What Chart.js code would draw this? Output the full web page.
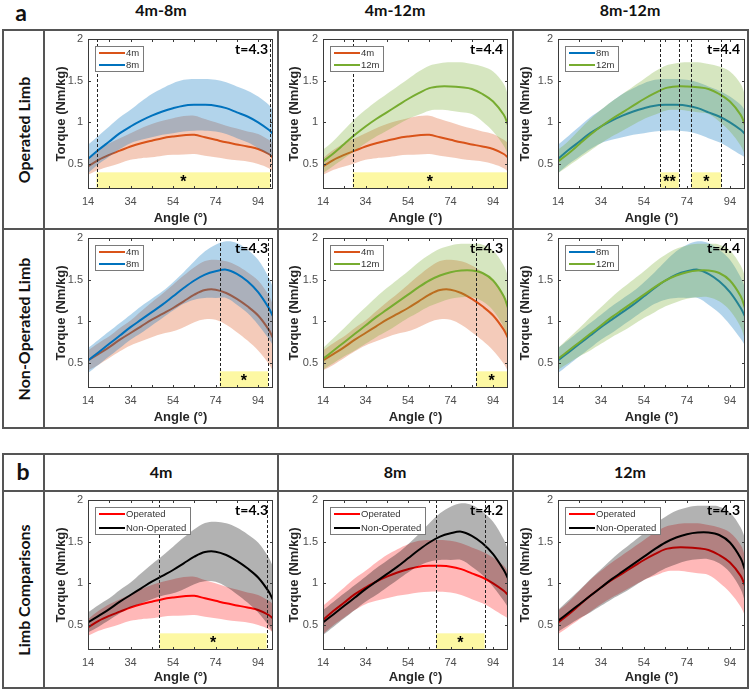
<!DOCTYPE html>
<html>
<head>
<meta charset="utf-8">
<title>Torque-angle curves</title>
<script src="https://cdn.jsdelivr.net/npm/chart.js@4.4.1/dist/chart.umd.min.js"></script>
<style>
  html, body { margin: 0; padding: 0; background: #fff; }
  #page { position: relative; width: 750px; height: 692px; overflow: hidden; }
  .ln { position: absolute; background: #555; }
  .c { position: absolute; transform: translate(-50%, -50%); white-space: nowrap; color: #111;
       font-family: Lato, 'Noto Sans', sans-serif; font-weight: bold; line-height: 1; }
  .hd { font-size: 16px; }
  .tag { font-size: 23px; }
  .rl { font-size: 16px; transform: translate(-50%, -50%) rotate(-90deg); }
  canvas { position: absolute; }
</style>
</head>
<body>
<div id="page">
  <div class="c tag" style="left:21px;top:12px">a</div>
  <div class="c hd" style="left:161px;top:10px">4m-8m</div>
  <div class="c hd" style="left:395px;top:10px">4m-12m</div>
  <div class="c hd" style="left:630px;top:10px">8m-12m</div>
  <div class="c rl" style="left:24px;top:130px">Operated Limb</div>
  <div class="c rl" style="left:24px;top:329px">Non-Operated Limb</div>

  <div class="c tag" style="left:23px;top:471px">b</div>
  <div class="c hd" style="left:161px;top:472px">4m</div>
  <div class="c hd" style="left:395px;top:472px">8m</div>
  <div class="c hd" style="left:630px;top:472px">12m</div>
  <div class="c rl" style="left:24px;top:590px">Limb Comparisons</div>
</div>

<script>
        // Joint angle samples (deg)
        const angles = [14, 19, 24, 29, 34, 39, 44, 49, 54, 59, 64, 69, 74, 79, 84, 89, 94, 99, 101];

        // Operated limb, mean and SD (Nm/kg)
        const op4Mean  = [0.47, 0.55, 0.61, 0.66, 0.71, 0.75, 0.78, 0.81, 0.83, 0.845, 0.85, 0.82, 0.79, 0.76, 0.735, 0.71, 0.68, 0.62, 0.58];
        const op4Sd    = [0.10, 0.12, 0.14, 0.15, 0.16, 0.18, 0.20, 0.21, 0.22, 0.23, 0.23, 0.22, 0.21, 0.20, 0.19, 0.18, 0.18, 0.17, 0.17];
        const op8Mean  = [0.56, 0.67, 0.77, 0.87, 0.95, 1.02, 1.08, 1.13, 1.17, 1.20, 1.21, 1.21, 1.20, 1.17, 1.12, 1.07, 1.00, 0.91, 0.86];
        const op8Sd    = [0.17, 0.17, 0.18, 0.19, 0.20, 0.23, 0.26, 0.28, 0.30, 0.31, 0.31, 0.31, 0.31, 0.31, 0.31, 0.31, 0.31, 0.30, 0.28];
        const op12Mean = [0.53, 0.63, 0.74, 0.85, 0.95, 1.04, 1.12, 1.20, 1.28, 1.35, 1.41, 1.43, 1.43, 1.42, 1.40, 1.34, 1.25, 1.09, 0.97];
        const op12Sd   = [0.14, 0.15, 0.17, 0.19, 0.20, 0.21, 0.22, 0.23, 0.24, 0.26, 0.27, 0.28, 0.29, 0.30, 0.30, 0.33, 0.36, 0.37, 0.36];

        // Non-operated limb, mean and SD (Nm/kg)
        const non4Mean  = [0.53, 0.61, 0.69, 0.78, 0.86, 0.94, 1.02, 1.09, 1.16, 1.24, 1.32, 1.375, 1.38, 1.34, 1.27, 1.18, 1.07, 0.90, 0.80];
        const non4Sd    = [0.12, 0.13, 0.13, 0.14, 0.15, 0.18, 0.21, 0.24, 0.28, 0.31, 0.33, 0.35, 0.36, 0.38, 0.40, 0.41, 0.42, 0.41, 0.40];
        const non8Mean  = [0.53, 0.63, 0.73, 0.83, 0.93, 1.02, 1.11, 1.20, 1.30, 1.40, 1.49, 1.56, 1.60, 1.62, 1.57, 1.48, 1.35, 1.16, 1.06];
        const non8Sd    = [0.15, 0.15, 0.15, 0.15, 0.15, 0.16, 0.16, 0.16, 0.17, 0.19, 0.23, 0.28, 0.32, 0.34, 0.37, 0.38, 0.39, 0.37, 0.35];
        const non12Mean = [0.55, 0.65, 0.75, 0.85, 0.95, 1.05, 1.14, 1.23, 1.32, 1.41, 1.49, 1.55, 1.59, 1.61, 1.61, 1.58, 1.49, 1.30, 1.16];
        const non12Sd   = [0.13, 0.15, 0.17, 0.20, 0.22, 0.24, 0.26, 0.27, 0.28, 0.30, 0.31, 0.32, 0.32, 0.32, 0.32, 0.34, 0.36, 0.37, 0.38];

        // Axis ticks
        const xTicks = [14, 24, 34, 44, 54, 64, 74, 84, 94];
        const xLabels = [14, 34, 54, 74, 94];
        const yTicks = [0.5, 1, 1.5, 2];

        // t statistic per panel (a row 1, a row 2, b)
        const tValues = ['4.3', '4.4', '4.4', '4.3', '4.3', '4.4', '4.3', '4.2', '4.3'];

        // Significant windows: [start angle, end angle, marker]
        const sigA1 = [[18, 99.7, '*']];
        const sigA2 = [[28, 100.6, '*']];
        const sigA3 = [[61.5, 70.2, '**'], [76, 90, '*']];
        const sigA4 = [[76, 98.7, '*']];
        const sigA5 = [[86, 100.7, '*']];
        const sigA6 = [];
        const sigB1 = [[47.6, 98, '*']];
        const sigB2 = [[67.2, 90, '*']];
        const sigB3 = [];
        const sigTop = 0.4;

        const series = {
            op4: [op4Mean, op4Sd], op8: [op8Mean, op8Sd], op12: [op12Mean, op12Sd],
            non4: [non4Mean, non4Sd], non8: [non8Mean, non8Sd], non12: [non12Mean, non12Sd]
        };

        const palette = {
            orange: { line: '#D95319', band: 'rgba(217,83,25,0.3)' },
            blue:   { line: '#0072BD', band: 'rgba(0,114,189,0.3)' },
            green:  { line: '#77AC30', band: 'rgba(119,172,48,0.3)' },
            red:    { line: '#FF0000', band: 'rgba(255,0,0,0.28)' },
            black:  { line: '#000000', band: 'rgba(0,0,0,0.3)' }
        };

        const panels = [
            { col: 0, row: 0, keys: ['op4', 'op8'],   names: ['4m', '8m'],  colors: ['orange', 'blue'],  t: tValues[0], sig: sigA1 },
            { col: 1, row: 0, keys: ['op4', 'op12'],  names: ['4m', '12m'], colors: ['orange', 'green'], t: tValues[1], sig: sigA2 },
            { col: 2, row: 0, keys: ['op8', 'op12'],  names: ['8m', '12m'], colors: ['blue', 'green'],   t: tValues[2], sig: sigA3 },
            { col: 0, row: 1, keys: ['non4', 'non8'], names: ['4m', '8m'],  colors: ['orange', 'blue'],  t: tValues[3], sig: sigA4 },
            { col: 1, row: 1, keys: ['non4', 'non12'], names: ['4m', '12m'], colors: ['orange', 'green'], t: tValues[4], sig: sigA5 },
            { col: 2, row: 1, keys: ['non8', 'non12'], names: ['8m', '12m'], colors: ['blue', 'green'],  t: tValues[5], sig: sigA6 },
            { col: 0, row: 2, keys: ['op4', 'non4'],  names: ['Operated', 'Non-Operated'], colors: ['red', 'black'], t: tValues[6], sig: sigB1 },
            { col: 1, row: 2, keys: ['op8', 'non8'],  names: ['Operated', 'Non-Operated'], colors: ['red', 'black'], t: tValues[7], sig: sigB2 },
            { col: 2, row: 2, keys: ['op12', 'non12'], names: ['Operated', 'Non-Operated'], colors: ['red', 'black'], t: tValues[8], sig: sigB3 }
        ];

        // Cell geometry
        const cols = [
            { left: 44, w: 234, yw: 44, pr: 5, tp: 10 },
            { left: 278, w: 235, yw: 45, pr: 5, tp: 9 },
            { left: 513, w: 235, yw: 45, pr: 3, tp: 5 }
        ];
        const rows = [{ top: 30, h: 199 }, { top: 229, h: 199 }, { top: 491, h: 197 }];

        const page = document.getElementById('page');

        // Table rules
        function rule(x, y, w, h) {
            const d = document.createElement('div');
            d.className = 'ln';
            d.style.left = x + 'px'; d.style.top = y + 'px';
            d.style.width = w + 'px'; d.style.height = h + 'px';
            page.appendChild(d);
        }
        [29, 228, 427].forEach(y => rule(2, y, 747, 2));
        [2, 43, 277, 512, 747].forEach(x => rule(x, 29, 2, 400));
        [453, 490, 687].forEach(y => rule(2, y, 747, 2));
        [2, 43, 277, 512, 747].forEach(x => rule(x, 453, 2, 236));

        const axisFont = 'Liberation Sans, Arial, sans-serif';

        function makeDecor(p) {
            return {
                id: 'decor',
                beforeDatasetsDraw(chart) {
                    const { ctx, chartArea: a, scales: { x, y } } = chart;
                    ctx.save();
                    ctx.fillStyle = '#fdf8a3';
                    const yt = y.getPixelForValue(sigTop);
                    p.sig.forEach(([s, e]) => {
                        const x0 = x.getPixelForValue(s), x1 = x.getPixelForValue(e);
                        ctx.fillRect(x0, yt, x1 - x0, a.bottom - yt);
                    });
                    ctx.restore();
                },
                afterDatasetsDraw(chart) {
                    const { ctx, chartArea: a, scales: { x, y } } = chart;
                    ctx.save();

                    // dashed window edges
                    ctx.strokeStyle = '#222';
                    ctx.lineWidth = 1;
                    ctx.setLineDash([3, 2]);
                    p.sig.forEach(([s, e]) => {
                        [s, e].forEach(v => {
                            const px = Math.round(x.getPixelForValue(v)) + 0.5;
                            ctx.beginPath();
                            ctx.moveTo(px, a.top);
                            ctx.lineTo(px, a.bottom);
                            ctx.stroke();
                        });
                    });
                    ctx.setLineDash([]);

                    // markers
                    ctx.fillStyle = '#000';
                    ctx.font = 'bold 16px ' + axisFont;
                    ctx.textAlign = 'center';
                    ctx.textBaseline = 'alphabetic';
                    p.sig.forEach(([s, e, mark]) => {
                        const cx = (x.getPixelForValue(s) + x.getPixelForValue(e)) / 2;
                        const cy = y.getPixelForValue(0.33);
                        const m = ctx.measureText(mark);
                        ctx.fillText(mark, cx, cy + (m.actualBoundingBoxAscent - m.actualBoundingBoxDescent) / 2);
                    });

                    // axes box + inward ticks
                    ctx.strokeStyle = '#3a3a3a';
                    ctx.lineWidth = 1;
                    ctx.strokeRect(a.left + 0.5, a.top + 0.5, a.width - 1, a.height - 1);
                    ctx.beginPath();
                    xTicks.forEach(v => {
                        const px = Math.round(x.getPixelForValue(v)) + 0.5;
                        ctx.moveTo(px, a.bottom); ctx.lineTo(px, a.bottom - 3);
                        ctx.moveTo(px, a.top); ctx.lineTo(px, a.top + 3);
                    });
                    yTicks.forEach(v => {
                        const py = Math.round(y.getPixelForValue(v)) + 0.5;
                        ctx.moveTo(a.left, py); ctx.lineTo(a.left + 3, py);
                        ctx.moveTo(a.right, py); ctx.lineTo(a.right - 3, py);
                    });
                    ctx.stroke();

                    // legend box
                    ctx.font = '9.5px ' + axisFont;
                    const tw = Math.max(...p.names.map(n => ctx.measureText(n).width));
                    const lx = a.left + 7, ly = a.top + 7;
                    const lw = Math.round(31 + tw + 4), lh = p.row === 2 ? 27 : 25;
                    ctx.fillStyle = '#fff';
                    ctx.fillRect(lx, ly, lw, lh);
                    ctx.strokeStyle = '#7a7a7a';
                    ctx.strokeRect(lx + 0.5, ly + 0.5, lw, lh);
                    ctx.textAlign = 'left';
                    ctx.textBaseline = 'middle';
                    p.names.forEach((n, i) => {
                        const ry = ly + 7 + i * (lh - 13);
                        ctx.strokeStyle = palette[p.colors[i]].line;
                        ctx.lineWidth = 2;
                        ctx.beginPath();
                        ctx.moveTo(lx + 4, ry); ctx.lineTo(lx + 30, ry);
                        ctx.stroke();
                        ctx.fillStyle = '#333';
                        ctx.fillText(n, lx + 31, ry + 0.5);
                    });

                    // t statistic
                    ctx.fillStyle = '#000';
                    ctx.font = 'bold 14px Lato, sans-serif';
                    ctx.textAlign = 'right';
                    ctx.fillText('t=' + p.t, a.right - 5, a.top + 10);
                    ctx.restore();
                }
            };
        }

        panels.forEach(p => {
            const col = cols[p.col], row = rows[p.row];
            const cv = document.createElement('canvas');
            cv.width = col.w; cv.height = row.h;
            cv.style.left = col.left + 'px'; cv.style.top = row.top + 'px';
            page.appendChild(cv);

            const datasets = [];
            p.keys.forEach((k, i) => {
                const [mean, sd] = series[k];
                const c = palette[p.colors[i]];
                const base = 10 - i * 4;
                datasets.push({
                    data: angles.map((a, j) => ({ x: a, y: mean[j] - sd[j] })),
                    borderWidth: 0, fill: false, order: base + 1
                });
                datasets.push({
                    data: angles.map((a, j) => ({ x: a, y: mean[j] + sd[j] })),
                    borderWidth: 0, fill: '-1', backgroundColor: c.band, order: base
                });
                datasets.push({
                    data: angles.map((a, j) => ({ x: a, y: mean[j] })),
                    borderColor: c.line, borderWidth: 2, fill: false, order: base - 1
                });
            });

            new Chart(cv, {
                type: 'line',
                data: { datasets },
                options: {
                    responsive: false,
                    animation: false,
                    events: [],
                    layout: { padding: { top: 9, right: col.pr, left: 0, bottom: 0 } },
                    elements: {
                        point: { radius: 0 },
                        line: { tension: 0.35 }
                    },
                    plugins: {
                        legend: { display: false },
                        tooltip: { enabled: false }
                    },
                    scales: {
                        x: {
                            type: 'linear', min: 14, max: 101,
                            grid: { display: false, drawTicks: false },
                            border: { display: false },
                            afterBuildTicks: s => { s.ticks = xTicks.map(v => ({ value: v })); },
                            afterFit: s => { s.height = row.h - 9 - 150; s.paddingLeft = 0; s.paddingRight = 0; },
                            ticks: {
                                autoSkip: false, maxRotation: 0, padding: 6, color: '#4d4d4d',
                                font: { family: axisFont, size: 11 },
                                callback: v => xLabels.includes(v) ? String(v) : ''
                            },
                            title: {
                                display: true, text: 'Angle (°)', color: '#262626',
                                font: { family: axisFont, size: 13, weight: 'bold' },
                                padding: { top: 0, bottom: 3 }
                            }
                        },
                        y: {
                            min: 0.2, max: 2,
                            grid: { display: false, drawTicks: false },
                            border: { display: false },
                            afterBuildTicks: s => { s.ticks = yTicks.map(v => ({ value: v })); },
                            afterFit: s => { s.width = col.yw; s.paddingTop = 0; s.paddingBottom = 0; },
                            ticks: {
                                padding: 5, color: '#4d4d4d',
                                font: { family: axisFont, size: 11 },
                                callback: v => String(v)
                            },
                            title: {
                                display: true, text: 'Torque (Nm/kg)', color: '#262626',
                                font: { family: axisFont, size: 13, weight: 'bold' },
                                padding: { top: col.tp, bottom: 0 }
                            }
                        }
                    }
                },
                plugins: [makeDecor(p)]
            });
        });
</script>
</body>
</html>
